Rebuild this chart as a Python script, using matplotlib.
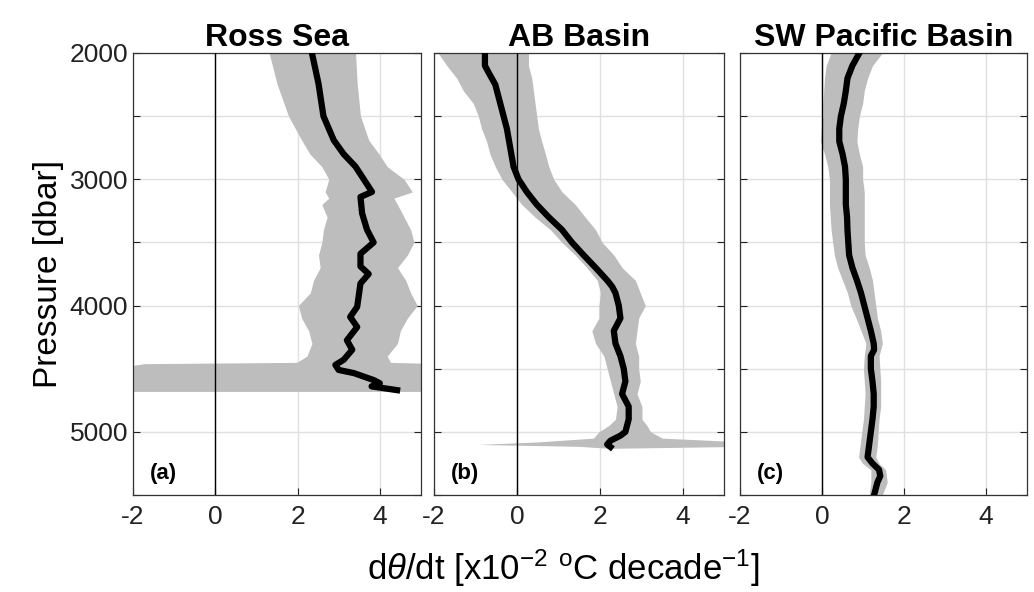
import numpy as np
import matplotlib
matplotlib.use("Agg")
import matplotlib.pyplot as plt

plt.rcParams['font.family'] = ['Liberation Sans', 'DejaVu Sans']
plt.rcParams['axes.unicode_minus'] = False
plt.rcParams['mathtext.fontset'] = 'custom'
plt.rcParams['mathtext.it'] = 'Liberation Sans:italic'
plt.rcParams['mathtext.rm'] = 'Liberation Sans'

# ---- Ross Sea ----
ross_p = [2000, 2243, 2500, 2690, 2800, 2900, 3000, 3100, 3140, 3270, 3400, 3500,
          3590, 3690, 3750, 3825, 4010, 4090, 4170, 4275, 4350, 4430, 4470, 4510,
          4535, 4590, 4615, 4640, 4670]
ross_mean = [2.35, 2.51, 2.63, 2.88, 3.12, 3.41, 3.61, 3.81, 3.53, 3.57, 3.69, 3.85,
             3.53, 3.53, 3.73, 3.53, 3.45, 3.28, 3.45, 3.20, 3.33, 3.12, 2.92, 3.00,
             3.37, 3.85, 4.00, 3.80, 4.42]
ross_bp = [2000, 2243, 2500, 2690, 2800, 2900, 3000, 3100, 3150, 3200, 3300, 3400,
           3500, 3600, 3700, 3800, 3900, 4000, 4100, 4200, 4300, 4400, 4450, 4460,
           4500, 4680]
ross_lo = [1.31, 1.50, 1.78, 2.10, 2.30, 2.59, 2.76, 2.67, 2.76, 2.59, 2.72, 2.63,
           2.59, 2.51, 2.55, 2.39, 2.31, 2.02, 2.10, 2.27, 2.35, 2.23, 1.98, -1.72,
           -2.5, -2.5]
ross_hi = [3.41, 3.45, 3.53, 3.73, 3.98, 4.18, 4.59, 4.79, 4.34, 4.43, 4.59, 4.75,
           4.83, 4.67, 4.43, 4.63, 4.75, 4.91, 4.67, 4.50, 4.43, 4.18, 4.26, 5.5,
           5.5, 5.5]

# ---- AB Basin ----
ab_p = [2000, 2100, 2150, 2250, 2400, 2500, 2600, 2750, 2900, 3000, 3100, 3200,
        3300, 3400, 3500, 3600, 3700, 3800, 3850, 3900, 4000, 4100, 4150, 4200,
        4300, 4400, 4500, 4600, 4650, 4700, 4750, 4800, 4900, 5000, 5030, 5070,
        5100, 5120]
ab_mean = [-0.77, -0.77, -0.69, -0.52, -0.40, -0.32, -0.24, -0.16, -0.08, 0.04,
           0.24, 0.48, 0.77, 1.09, 1.33, 1.61, 1.90, 2.18, 2.30, 2.38, 2.46, 2.50,
           2.42, 2.34, 2.38, 2.50, 2.58, 2.62, 2.58, 2.54, 2.62, 2.70, 2.70, 2.62,
           2.50, 2.26, 2.18, 2.26]
ab_bp = [2000, 2100, 2200, 2300, 2400, 2500, 2600, 2700, 2800, 2900, 3000, 3100,
         3200, 3300, 3400, 3500, 3600, 3700, 3800, 3900, 4000, 4100, 4200, 4300,
         4400, 4500, 4600, 4700, 4800, 4900, 4950, 5000, 5050, 5080, 5100, 5115,
         5130]
ab_lo = [-1.90, -1.69, -1.45, -1.29, -1.05, -0.93, -0.85, -0.73, -0.65, -0.52,
         -0.36, -0.12, 0.12, 0.44, 0.81, 1.09, 1.41, 1.69, 1.94, 2.02, 1.98, 1.98,
         1.81, 1.90, 2.10, 2.18, 2.26, 2.34, 2.42, 2.38, 2.22, 1.98, 1.85, 0.5,
         -0.93, 1.5, 2.2]
ab_hi = [0.28, 0.28, 0.36, 0.40, 0.44, 0.48, 0.52, 0.60, 0.69, 0.77, 0.89, 1.09,
         1.41, 1.65, 1.90, 2.06, 2.34, 2.54, 2.86, 2.98, 3.10, 2.94, 2.90, 2.86,
         2.94, 2.94, 2.98, 2.90, 3.02, 3.02, 3.14, 3.23, 3.51, 5.5, 5.5, 5.5, 2.4]

# ---- SW Pacific Basin ----
sw_p = [2000, 2100, 2200, 2300, 2400, 2500, 2600, 2700, 2800, 2900, 3000, 3100,
        3200, 3300, 3400, 3500, 3600, 3700, 3800, 3900, 4000, 4100, 4200, 4300,
        4350, 4400, 4500, 4600, 4700, 4800, 4900, 5000, 5100, 5200, 5250, 5300,
        5350, 5400, 5450, 5500]
sw_mean = [0.91, 0.74, 0.62, 0.58, 0.53, 0.46, 0.42, 0.42, 0.50, 0.56, 0.58, 0.58,
           0.58, 0.61, 0.62, 0.64, 0.66, 0.74, 0.85, 0.95, 1.03, 1.11, 1.19, 1.26,
           1.27, 1.19, 1.19, 1.23, 1.26, 1.26, 1.23, 1.19, 1.15, 1.11, 1.23, 1.39,
           1.42, 1.35, 1.31, 1.27]
sw_bp = [2000, 2100, 2200, 2300, 2400, 2500, 2600, 2700, 2800, 2900, 3000, 3100,
         3200, 3300, 3400, 3500, 3600, 3700, 3800, 3900, 4000, 4100, 4200, 4300,
         4400, 4500, 4600, 4700, 4800, 4900, 5000, 5100, 5200, 5250, 5300, 5400,
         5500]
sw_lo = [0.22, 0.10, 0.06, 0.04, 0.02, 0.02, -0.02, -0.04, 0.06, 0.14, 0.18, 0.18,
         0.18, 0.20, 0.22, 0.26, 0.30, 0.38, 0.50, 0.62, 0.70, 0.83, 0.95, 1.07,
         1.03, 1.01, 1.03, 1.05, 1.03, 1.01, 0.97, 0.93, 0.89, 0.99, 1.19, 1.19,
         1.15]
sw_hi = [1.47, 1.23, 1.11, 1.03, 0.99, 0.91, 0.87, 0.85, 0.91, 0.99, 0.99, 1.03,
         1.03, 1.03, 1.03, 1.03, 1.05, 1.15, 1.23, 1.27, 1.31, 1.35, 1.43, 1.47,
         1.39, 1.41, 1.43, 1.43, 1.43, 1.39, 1.37, 1.35, 1.31, 1.39, 1.55, 1.59,
         1.47]

titles = ['Ross Sea', 'AB Basin', 'SW Pacific Basin']
letters = ['(a)', '(b)', '(c)']
panels = [
    (ross_p, ross_mean, ross_bp, ross_lo, ross_hi),
    (ab_p, ab_mean, ab_bp, ab_lo, ab_hi),
    (sw_p, sw_mean, sw_bp, sw_lo, sw_hi),
]
lefts = [0.1286, 0.4197, 0.7157]
widths = [0.2785, 0.2805, 0.2776]

fig = plt.figure(figsize=(10.34, 5.92), dpi=100)

for i, (p, m, bp, lo, hi) in enumerate(panels):
    ax = fig.add_axes([lefts[i], 0.1639, widths[i], 0.7466])
    ax.fill_betweenx(bp, lo, hi, color='#bdbdbd', lw=0, zorder=2)
    ax.axvline(0, color='black', lw=1.0, zorder=3)
    ax.plot(m, p, color='black', lw=4.5, solid_joinstyle='round', zorder=4)
    ax.set_xlim(-2, 5)
    ax.set_ylim(5500, 2000)
    ax.set_xticks([-2, 0, 2, 4])
    ax.set_yticks(np.arange(2000, 5501, 500))
    ax.grid(True, color='#e0e0e0', lw=1.0, zorder=1)
    ax.set_axisbelow(True)
    ax.tick_params(direction='in', length=5, width=0.8, top=False, right=True,
                   labelsize=19, colors='#222222')
    ax.tick_params(axis='x', pad=7)
    if i == 0:
        ax.set_yticklabels(['2000', '', '3000', '', '4000', '', '5000', ''])
        ax.set_ylabel('Pressure [dbar]', fontsize=24, labelpad=4)
    else:
        ax.set_yticklabels([])
    for s in ax.spines.values():
        s.set_linewidth(0.9)
        s.set_color('#333333')
    ax.set_title(titles[i], fontsize=23, fontweight='bold', pad=3)
    ax.text(-1.6, 5330, letters[i], fontsize=16, fontweight='bold', va='center')

fig.text(0.545, 0.04, r'd$\theta$/dt [x10$^{-2}$ $^{\rm o}$C decade$^{-1}$]',
         ha='center', va='center', fontsize=25)

fig.savefig('out.png', dpi=100)
